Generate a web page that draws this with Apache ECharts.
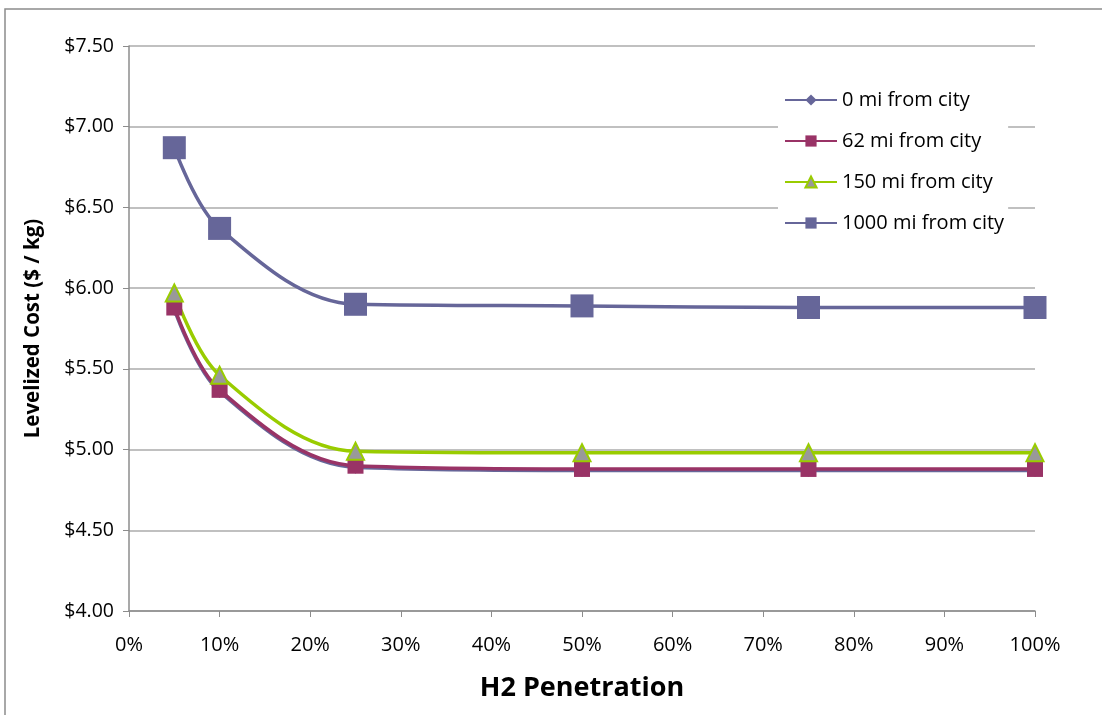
<!DOCTYPE html>
<html><head><meta charset="utf-8">
<script src="https://cdn.jsdelivr.net/npm/echarts@6/dist/echarts.min.js"></script>
<style>html,body{margin:0;padding:0;background:#fff}#c{width:1102px;height:715px}</style>
</head><body><div id="c"></div>
<script>
const seriesNames = ['0 mi from city','62 mi from city','150 mi from city','1000 mi from city'];
const xPenetration = [5, 10, 25, 50, 75, 100];
const cost0mi    = [5.87, 5.36, 4.89, 4.87, 4.87, 4.87];
const cost62mi   = [5.88, 5.37, 4.90, 4.88, 4.88, 4.88];
const cost150mi  = [5.97, 5.46, 4.99, 4.98, 4.98, 4.98];
const cost1000mi = [6.87, 6.37, 5.90, 5.89, 5.88, 5.88];

const FONT = 'Open Sans';
const pairs = v => xPenetration.map((x,i)=>[x, v[i]]);
const chart = echarts.init(document.getElementById('c'), null, {renderer:'canvas'});
chart.setOption({
  animation:false,
  backgroundColor:'#fff',
  graphic:[{type:'rect', shape:{x:5,y:9,width:1110,height:720}, style:{fill:'none',stroke:'#8c8c8c',lineWidth:1.5}, silent:true, z:-10}],
  grid:{left:129, right:67, top:46, bottom:104},
  legend:{
    orient:'vertical', left:778, top:84, padding:[6,4,8,6],
    backgroundColor:'#fff', itemWidth:52, itemHeight:14, itemGap:21,
    textStyle:{fontFamily:FONT, fontSize:20, lineHeight:20, color:'#000'},
    data:seriesNames
  },
  xAxis:{
    type:'value', min:0, max:100, interval:10,
    name:'H2 Penetration', nameLocation:'middle', nameGap:64,
    nameTextStyle:{fontFamily:FONT, fontSize:27, fontWeight:'bold', color:'#000'},
    axisLine:{lineStyle:{color:'#8c8c8c', width:1.5}},
    axisTick:{show:true, length:6, lineStyle:{color:'#8c8c8c'}},
    axisLabel:{formatter:'{value}%', fontFamily:FONT, fontSize:20, color:'#000', margin:24},
    splitLine:{show:false}
  },
  yAxis:{
    type:'value', min:4, max:7.5, interval:0.5,
    name:'Levelized Cost ($ / kg)', nameLocation:'middle', nameGap:85, nameRotate:90,
    nameTextStyle:{fontFamily:FONT, fontSize:20.5, fontWeight:'bold', color:'#000'},
    axisLine:{show:true, lineStyle:{color:'#8c8c8c', width:1.5}},
    axisTick:{show:true, length:6, lineStyle:{color:'#8c8c8c'}},
    axisLabel:{formatter:v=>'$'+v.toFixed(2), fontFamily:FONT, fontSize:19.5, color:'#000', margin:15},
    splitLine:{lineStyle:{color:'#ababab', width:1.5}}
  },
  series:[
    {name:seriesNames[0], type:'line', smooth:0.35, data:pairs(cost0mi),
     symbol:'diamond', symbolSize:13, lineStyle:{color:'#666699', width:3.5},
     itemStyle:{color:'#666699'}},
    {name:seriesNames[1], type:'line', smooth:0.35, data:pairs(cost62mi),
     symbol:'rect', symbolSize:16, lineStyle:{color:'#993366', width:3.5},
     itemStyle:{color:'#993366'}},
    {name:seriesNames[2], type:'line', smooth:0.35, data:pairs(cost150mi),
     symbol:'triangle', symbolSize:[17,17], lineStyle:{color:'#99cc00', width:3.5},
     itemStyle:{color:'#999999', borderColor:'#99cc00', borderWidth:2}},
    {name:seriesNames[3], type:'line', smooth:0.35, data:pairs(cost1000mi),
     symbol:'rect', symbolSize:23, lineStyle:{color:'#666699', width:3.5},
     itemStyle:{color:'#666699'}}
  ]
});
</script></body></html>
